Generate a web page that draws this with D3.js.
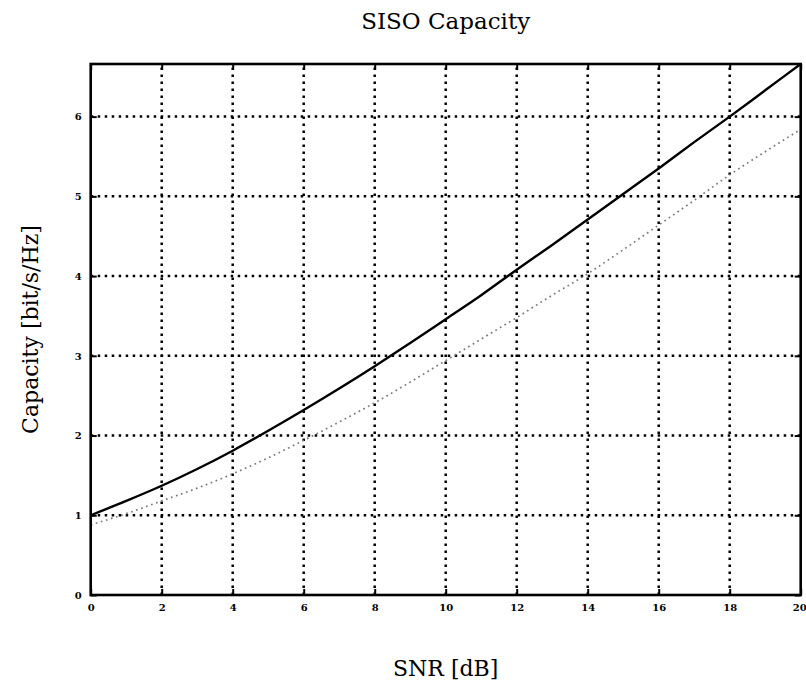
<!DOCTYPE html>
<html>
<head>
<meta charset="utf-8">
<script src="https://cdn.jsdelivr.net/npm/d3@7"></script>
<style>
  html, body { margin: 0; padding: 0; background: #fff; }
  svg { display: block; }
</style>
</head>
<body>
<svg id="chart" width="806" height="683"></svg>
<script>
// SNR grid in dB
const snrDb = [0, 1, 2, 3, 4, 5, 6, 7, 8, 9, 10, 11, 12, 13, 14, 15, 16, 17, 18, 19, 20];

// AWGN channel capacity (solid curve), bit/s/Hz
const capacityAwgn = [1.00, 1.18, 1.37, 1.58, 1.81, 2.06, 2.32, 2.59, 2.87, 3.16,
                      3.46, 3.76, 4.08, 4.39, 4.71, 5.03, 5.35, 5.68, 6.00, 6.33, 6.66];

// Fading channel capacity (dotted grey curve), bit/s/Hz
const capacityFading = [0.88, 1.02, 1.18, 1.34, 1.52, 1.72, 1.94, 2.17, 2.41, 2.67,
                        2.94, 3.21, 3.48, 3.76, 4.03, 4.33, 4.64, 4.95, 5.27, 5.56, 5.84];

const xTicks = [0, 2, 4, 6, 8, 10, 12, 14, 16, 18, 20];
const yTicks = [0, 1, 2, 3, 4, 5, 6];

const titleText = "SISO Capacity";
const xLabelText = "SNR [dB]";
const yLabelText = "Capacity [bit/s/Hz]";

const svg = d3.select("#chart");
const plot = { left: 90.7, right: 800.7, top: 64, bottom: 595 };

const x = d3.scaleLinear().domain([0, 20]).range([plot.left, plot.right]);
const y = d3.scaleLinear().domain([0, d3.max(capacityAwgn)]).range([plot.bottom, plot.top]);

const serif = "'DejaVu Serif', 'Liberation Serif', serif";
const tickFont = "'DejaVu Serif', serif";

// dotted grid
const grid = svg.append("g")
  .attr("stroke", "#000")
  .attr("stroke-width", 2.5)
  .attr("stroke-dasharray", "2.5,4.5");

grid.selectAll("line.gx")
  .data(xTicks.filter(t => t > 0 && t < 20))
  .join("line")
  .attr("class", "gx")
  .attr("x1", d => x(d)).attr("x2", d => x(d))
  .attr("y1", plot.bottom).attr("y2", plot.top);

grid.selectAll("line.gy")
  .data(yTicks.filter(t => t > 0))
  .join("line")
  .attr("class", "gy")
  .attr("y1", d => y(d)).attr("y2", d => y(d))
  .attr("x1", plot.left).attr("x2", plot.right);

// curves
const line = d3.line()
  .x((d, i) => x(snrDb[i]))
  .y(d => y(d))
  .curve(d3.curveMonotoneX);

svg.append("path")
  .datum(capacityFading)
  .attr("d", line)
  .attr("fill", "none")
  .attr("stroke", "#7a7a7a")
  .attr("stroke-width", 1.7)
  .attr("stroke-dasharray", "1.7,3.6");

svg.append("path")
  .datum(capacityAwgn)
  .attr("d", line)
  .attr("fill", "none")
  .attr("stroke", "#000")
  .attr("stroke-width", 2.4);

// axes with inward ticks on all four sides
const tickLen = 6;
const fmt = d3.format("d");
const xAxisB = d3.axisBottom(x).tickValues(xTicks).tickFormat(fmt).tickSizeInner(-tickLen).tickSizeOuter(0).tickPadding(9);
const xAxisT = d3.axisTop(x).tickValues(xTicks).tickSizeInner(-tickLen).tickSizeOuter(0).tickFormat("");
const yAxisL = d3.axisLeft(y).tickValues(yTicks).tickFormat(fmt).tickSizeInner(-tickLen).tickSizeOuter(0).tickPadding(9);
const yAxisR = d3.axisRight(y).tickValues(yTicks).tickSizeInner(-tickLen).tickSizeOuter(0).tickFormat("");

function styleAxis(g) {
  g.select(".domain").remove();
  g.selectAll(".tick line").attr("stroke", "#000").attr("stroke-width", 2);
  g.selectAll(".tick text")
    .attr("fill", "#000")
    .attr("font-family", tickFont)
    .attr("font-weight", "bold")
    .attr("font-size", 10);
}

const bottomAxis = svg.append("g").attr("transform", `translate(0,${plot.bottom})`).call(xAxisB).call(styleAxis);
// keep the last label inside the page edge
bottomAxis.selectAll(".tick text")
  .filter(d => d === 20)
  .attr("text-anchor", "end")
  .attr("dx", "0.55em");

svg.append("g").attr("transform", `translate(0,${plot.top})`).call(xAxisT).call(styleAxis);
svg.append("g").attr("transform", `translate(${plot.left},0)`).call(yAxisL).call(styleAxis);
svg.append("g").attr("transform", `translate(${plot.right},0)`).call(yAxisR).call(styleAxis);

// frame
svg.append("rect")
  .attr("x", plot.left).attr("y", plot.top)
  .attr("width", plot.right - plot.left)
  .attr("height", plot.bottom - plot.top)
  .attr("fill", "none")
  .attr("stroke", "#000")
  .attr("stroke-width", 2.6);

// title and axis labels
const cx = (plot.left + plot.right) / 2;

svg.append("text")
  .attr("x", cx).attr("y", 29)
  .attr("text-anchor", "middle")
  .attr("font-family", serif)
  .attr("font-size", 23)
  .attr("fill", "#000")
  .text(titleText);

svg.append("text")
  .attr("x", cx).attr("y", 676)
  .attr("text-anchor", "middle")
  .attr("font-family", serif)
  .attr("font-size", 22)
  .attr("fill", "#000")
  .text(xLabelText);

svg.append("text")
  .attr("transform", `translate(38,${(plot.top + plot.bottom) / 2}) rotate(-90)`)
  .attr("text-anchor", "middle")
  .attr("font-family", serif)
  .attr("font-size", 22)
  .attr("fill", "#000")
  .text(yLabelText);
</script>
</body>
</html>
